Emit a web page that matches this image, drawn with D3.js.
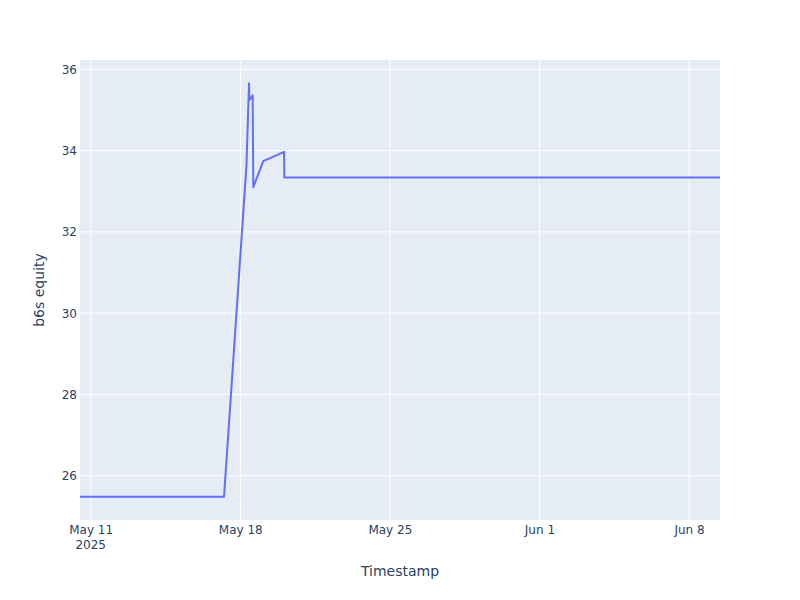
<!DOCTYPE html>
<html>
<head>
<meta charset="utf-8">
<script src="https://cdn.jsdelivr.net/npm/d3@7"></script>
<style>
  body { margin: 0; background: #fff; }
  text { font-family: "DejaVu Sans", verdana, arial, sans-serif; }
</style>
</head>
<body>
<div id="chart"></div>
<script>
// values
var timestamps = [
    "2025-05-10T12:00", "2025-05-17T05:45", "2025-05-18T07:00", "2025-05-18T09:50",
    "2025-05-18T10:10", "2025-05-18T13:55", "2025-05-18T14:40", "2025-05-19T01:50",
    "2025-05-20T01:10", "2025-05-20T01:30", "2025-06-09T10:50"
];
var equity = [25.48, 25.48, 33.65, 35.66, 35.24, 35.36, 33.10, 33.74, 33.97, 33.34, 33.34];

var xTickDates = ["2025-05-11", "2025-05-18", "2025-05-25", "2025-06-01", "2025-06-08"];
var xTickLabels = ["May 11", "May 18", "May 25", "Jun 1", "Jun 8"];
var yTicks = [26, 28, 30, 32, 34, 36];
var yRange = [24.91, 36.23];

var svgWidth = 800;
var svgHeight = 600;
var margin = { top: 60, right: 80, bottom: 80, left: 80 };
var chart_width = svgWidth - margin.left - margin.right;
var chart_height = svgHeight - margin.top - margin.bottom;

var fontStack = "\"DejaVu Sans\", verdana, arial, sans-serif";
var parseTime = d3.utcParse("%Y-%m-%dT%H:%M");
var parseDay = d3.utcParse("%Y-%m-%d");

var data = timestamps.map(function (t, i) {
    return { date: parseTime(t), value: equity[i] };
});

var svg = d3.select("#chart")
    .append("svg")
    .attr("width", svgWidth)
    .attr("height", svgHeight);

var chart_group = svg.append("g")
    .attr("transform", `translate(${margin.left}, ${margin.top})`);

chart_group.append("rect")
    .attr("width", chart_width)
    .attr("height", chart_height)
    .attr("fill", "#E5ECF6");

var xScale = d3.scaleUtc()
    .domain(d3.extent(data, d => d.date))
    .range([0, chart_width]);

var yScale = d3.scaleLinear()
    .domain(yRange)
    .range([chart_height, 0]);

// grid lines
chart_group.append("g")
    .selectAll("line")
    .data(xTickDates.map(parseDay))
    .enter()
    .append("line")
    .attr("x1", d => xScale(d))
    .attr("x2", d => xScale(d))
    .attr("y1", 0)
    .attr("y2", chart_height)
    .attr("stroke", "#fff")
    .attr("stroke-width", 1);

chart_group.append("g")
    .selectAll("line")
    .data(yTicks)
    .enter()
    .append("line")
    .attr("x1", 0)
    .attr("x2", chart_width)
    .attr("y1", d => yScale(d))
    .attr("y2", d => yScale(d))
    .attr("stroke", "#fff")
    .attr("stroke-width", 1);

// axes
var xAxis = d3.axisBottom(xScale)
    .tickValues(xTickDates.map(parseDay))
    .tickFormat((d, i) => xTickLabels[i])
    .tickSize(0)
    .tickPadding(5);

var yAxis = d3.axisLeft(yScale)
    .tickValues(yTicks)
    .tickSize(0)
    .tickPadding(3);

var xg = chart_group.append("g")
    .attr("transform", `translate(0, ${chart_height})`)
    .call(xAxis);

var yg = chart_group.append("g")
    .call(yAxis);

[xg, yg].forEach(function (g) {
    g.select(".domain").remove();
    g.selectAll("text")
        .attr("font-size", "12px")
        .attr("font-family", fontStack)
        .attr("fill", "#2a3f5f");
});

// year under the first tick
xg.append("text")
    .attr("x", xScale(parseDay(xTickDates[0])))
    .attr("y", 29)
    .attr("text-anchor", "middle")
    .attr("font-size", "12px")
    .attr("font-family", fontStack)
    .attr("fill", "#2a3f5f")
    .text("2025");

// line
svg.append("clipPath")
    .attr("id", "plot-clip")
    .append("rect")
    .attr("width", chart_width)
    .attr("height", chart_height);

var line = d3.line()
    .x(d => xScale(d.date))
    .y(d => yScale(d.value));

chart_group.append("path")
    .datum(data)
    .attr("clip-path", "url(#plot-clip)")
    .attr("d", line)
    .attr("fill", "none")
    .attr("stroke", "#636efa")
    .attr("stroke-width", 2)
    .attr("stroke-linejoin", "round");

// axis titles
svg.append("text")
    .attr("x", margin.left + chart_width / 2)
    .attr("y", 576)
    .attr("text-anchor", "middle")
    .attr("font-size", "14px")
    .attr("font-family", fontStack)
    .attr("fill", "#2a3f5f")
    .text("Timestamp");

svg.append("text")
    .attr("transform", `translate(44, ${margin.top + chart_height / 2}) rotate(-90)`)
    .attr("text-anchor", "middle")
    .attr("font-size", "14px")
    .attr("font-family", fontStack)
    .attr("fill", "#2a3f5f")
    .text("b6s equity");
</script>
</body>
</html>
